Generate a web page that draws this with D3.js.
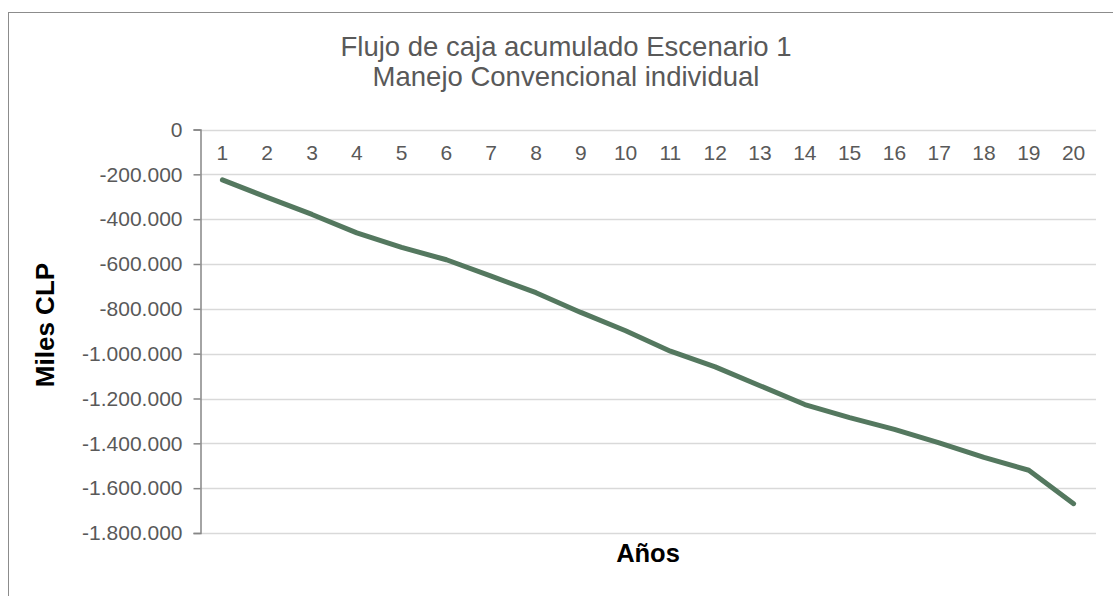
<!DOCTYPE html>
<html>
<head>
<meta charset="utf-8">
<script src="https://cdn.jsdelivr.net/npm/d3@7"></script>
<style>
  body { margin: 0; background: #fff; }
  text { font-family: "Liberation Sans", Arial, sans-serif; }
</style>
</head>
<body>
<script>
var width = 1113;
var height = 596;

// data (miles CLP)
var years = d3.range(1, 21);
var flujo = [-225000, -303000, -379000, -461000, -526000, -581000, -654000, -728000,
  -816000, -898000, -989000, -1059000, -1143000, -1227000, -1285000, -1338000,
  -1398000, -1463000, -1520000, -1669000];
var yTicks = [0, -200000, -400000, -600000, -800000, -1000000, -1200000, -1400000, -1600000, -1800000];

var margin = {top: 129.5, left: 200, right: 17, bottom: 63};

var svg = d3.select("body")
  .append("svg")
  .attr("width", width)
  .attr("height", height);

// chart border (only top and left edges show)
svg.append("rect")
  .attr("x", 8.5)
  .attr("y", 12.5)
  .attr("width", 1300)
  .attr("height", 800)
  .attr("fill", "none")
  .attr("stroke", "#8c8c8c")
  .attr("stroke-width", 1);

var x = d3.scaleBand()
  .domain(years)
  .range([margin.left, width - margin.right]);

var y = d3.scaleLinear()
  .domain([0, -1800000])
  .range([margin.top, 533]);

var fmt = function(v) {
  return d3.format(",")(v).replace(/,/g, ".").replace("−", "-");
};

// gridlines
svg.append("g")
  .selectAll("line")
  .data(yTicks)
  .enter()
  .append("line")
  .attr("x1", margin.left)
  .attr("x2", width - margin.right)
  .attr("y1", function(d) { return Math.round(y(d)) + 0.5; })
  .attr("y2", function(d) { return Math.round(y(d)) + 0.5; })
  .attr("stroke", "#d9d9d9")
  .attr("stroke-width", 1.5);

// y axis
var yAxis = svg.append("g")
  .attr("transform", "translate(" + (margin.left + 0.5) + ",0)")
  .call(d3.axisLeft(y).tickValues(yTicks).tickSize(7).tickPadding(11).tickFormat(fmt));
yAxis.select(".domain").attr("stroke", "#868686").attr("stroke-width", 1.5);
yAxis.selectAll(".tick line").attr("stroke", "#868686").attr("stroke-width", 1.5);
yAxis.selectAll("text")
  .attr("fill", "#595959")
  .style("font-size", "21px")
  .style("font-family", "Liberation Sans, Arial, sans-serif");

// x labels (axis crosses at 0, labels sit under it)
var xAxis = svg.append("g")
  .attr("transform", "translate(0," + margin.top + ")")
  .call(d3.axisBottom(x).tickSize(0).tickPadding(16));
xAxis.select(".domain").remove();
xAxis.selectAll("text")
  .attr("fill", "#595959")
  .style("font-size", "21px")
  .style("font-family", "Liberation Sans, Arial, sans-serif");

// line
var line = d3.line()
  .x(function(d, i) { return x(years[i]) + x.bandwidth() / 2; })
  .y(function(d) { return y(d); });

svg.append("path")
  .datum(flujo)
  .attr("d", line)
  .attr("fill", "none")
  .attr("stroke", "#54785f")
  .attr("stroke-width", 5)
  .attr("stroke-linecap", "round")
  .attr("stroke-linejoin", "round");

// titles
svg.append("text")
  .attr("x", 566)
  .attr("y", 56)
  .attr("text-anchor", "middle")
  .attr("fill", "#595959")
  .style("font-size", "27.5px")
  .text("Flujo de caja acumulado Escenario 1");

svg.append("text")
  .attr("x", 566)
  .attr("y", 86)
  .attr("text-anchor", "middle")
  .attr("fill", "#595959")
  .style("font-size", "27.5px")
  .text("Manejo Convencional individual");

svg.append("text")
  .attr("x", 648)
  .attr("y", 562)
  .attr("text-anchor", "middle")
  .attr("fill", "#000")
  .style("font-size", "25.5px")
  .style("font-weight", "bold")
  .text("Años");

svg.append("text")
  .attr("transform", "translate(54,325) rotate(-90)")
  .attr("text-anchor", "middle")
  .attr("fill", "#000")
  .style("font-size", "26px")
  .style("font-weight", "bold")
  .text("Miles CLP");
</script>
</body>
</html>
